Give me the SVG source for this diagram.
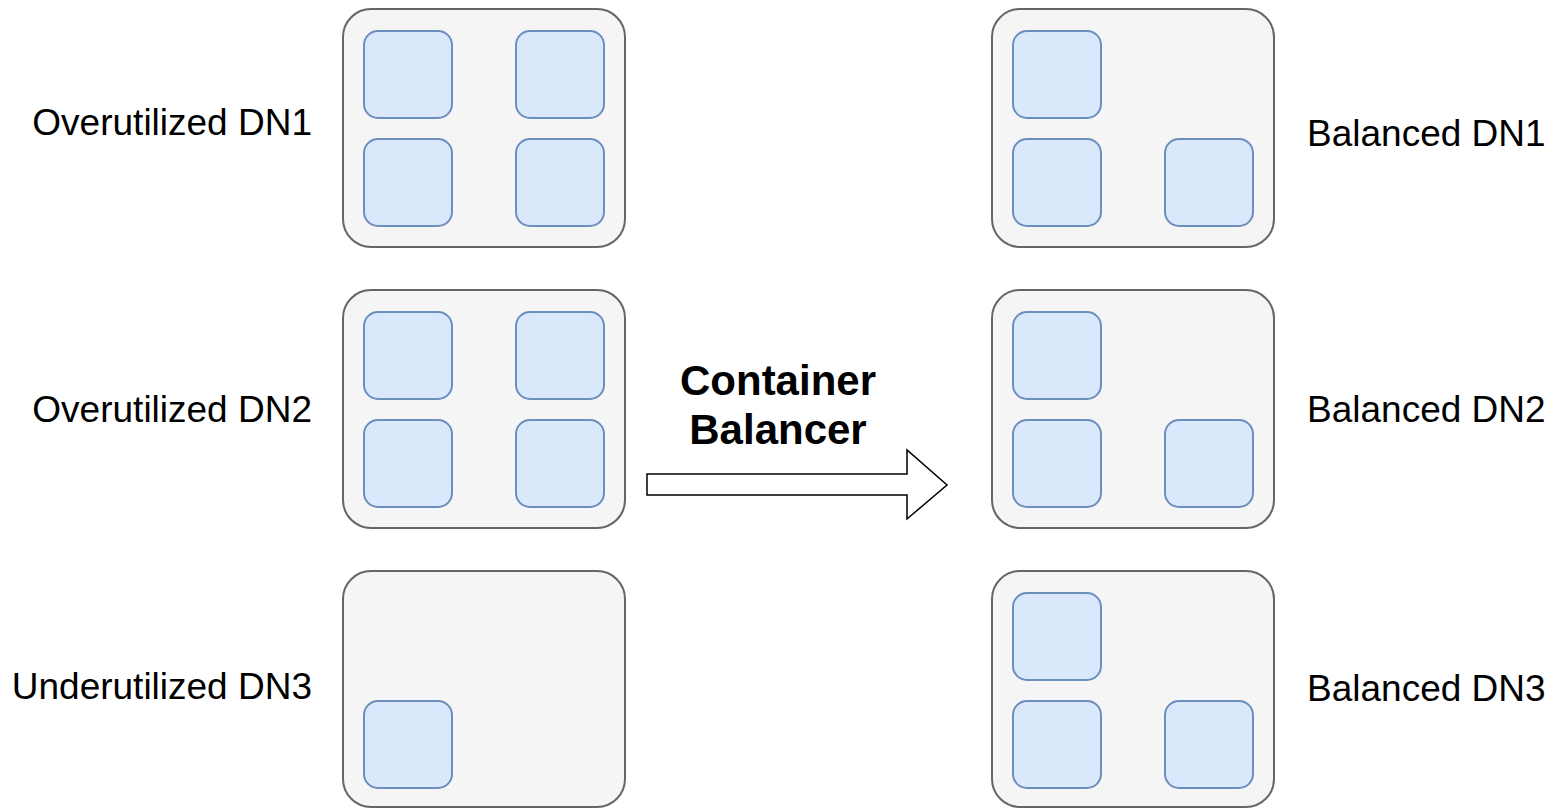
<svg xmlns="http://www.w3.org/2000/svg" width="1552" height="809" viewBox="0 0 1552 809">
  <defs>
    <style>
      .node { fill: #f5f5f5; stroke: #666666; stroke-width: 2; }
      .blk { fill: #dae8fc; stroke: #6c8ebf; stroke-width: 2; }
      .lbl { font-family: "Liberation Sans", Arial, Helvetica, sans-serif; font-size: 37px; fill: #000000; }
      .title { font-family: "Liberation Sans", Arial, Helvetica, sans-serif; font-size: 42px; font-weight: bold; fill: #000000; text-anchor: middle; }
      .flow { fill: #ffffff; stroke: #000000; stroke-width: 1.5; stroke-linejoin: miter; }
    </style>
    <rect id="container" x="0" y="0" width="88" height="87" rx="14" ry="14" class="blk"/>
  </defs>

  <rect width="1552" height="809" fill="#ffffff"/>

  <!-- Left column: nodes before balancing -->
  <g id="over-dn1">
    <rect x="343" y="9" width="282" height="238" rx="28" ry="28" class="node"/>
    <use href="#container" x="364" y="31"/>
    <use href="#container" x="516" y="31"/>
    <use href="#container" x="364" y="139"/>
    <use href="#container" x="516" y="139"/>
    <text x="312" y="135" class="lbl" text-anchor="end">Overutilized DN1</text>
  </g>

  <g id="over-dn2">
    <rect x="343" y="290" width="282" height="238" rx="28" ry="28" class="node"/>
    <use href="#container" x="364" y="312"/>
    <use href="#container" x="516" y="312"/>
    <use href="#container" x="364" y="420"/>
    <use href="#container" x="516" y="420"/>
    <text x="312" y="422" class="lbl" text-anchor="end">Overutilized DN2</text>
  </g>

  <g id="under-dn3">
    <rect x="343" y="571" width="282" height="236" rx="28" ry="28" class="node"/>
    <use href="#container" x="364" y="701"/>
    <text x="312" y="699" class="lbl" text-anchor="end">Underutilized DN3</text>
  </g>

  <!-- Right column: nodes after balancing -->
  <g id="bal-dn1">
    <rect x="992" y="9" width="282" height="238" rx="28" ry="28" class="node"/>
    <use href="#container" x="1013" y="31"/>
    <use href="#container" x="1013" y="139"/>
    <use href="#container" x="1165" y="139"/>
    <text x="1307" y="146" class="lbl">Balanced DN1</text>
  </g>

  <g id="bal-dn2">
    <rect x="992" y="290" width="282" height="238" rx="28" ry="28" class="node"/>
    <use href="#container" x="1013" y="312"/>
    <use href="#container" x="1013" y="420"/>
    <use href="#container" x="1165" y="420"/>
    <text x="1307" y="422" class="lbl">Balanced DN2</text>
  </g>

  <g id="bal-dn3">
    <rect x="992" y="571" width="282" height="236" rx="28" ry="28" class="node"/>
    <use href="#container" x="1013" y="593"/>
    <use href="#container" x="1013" y="701"/>
    <use href="#container" x="1165" y="701"/>
    <text x="1307" y="701" class="lbl">Balanced DN3</text>
  </g>

  <!-- Balancer transition arrow -->
  <g id="connectors">
    <path d="M647,474 L907,474 L907,450 L947,485 L907,519 L907,495 L647,495 Z" class="flow"/>
    <text x="778" y="395" class="title">Container</text>
    <text x="778" y="444" class="title">Balancer</text>
  </g>
</svg>
